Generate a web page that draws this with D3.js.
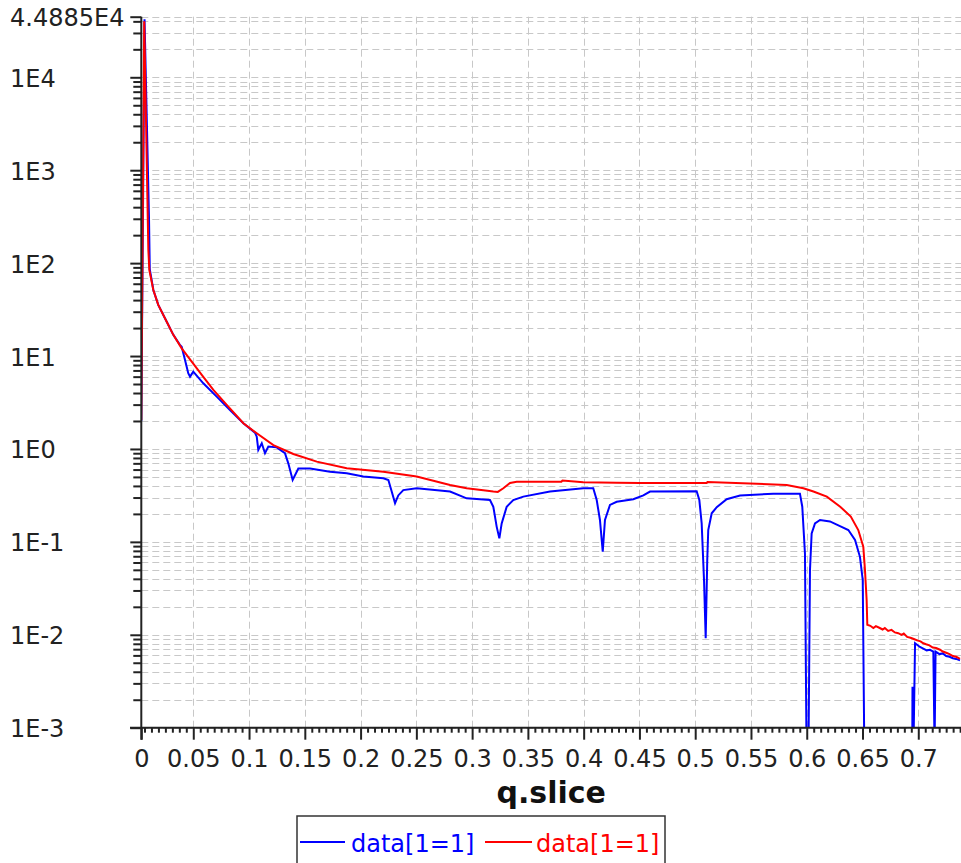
<!DOCTYPE html>
<html>
<head>
<meta charset="utf-8">
<script src="https://cdn.jsdelivr.net/npm/d3@7"></script>
<style>
  html, body { margin: 0; padding: 0; background: #fff; }
  svg { display: block; }
</style>
</head>
<body>
<svg id="chart" width="961" height="863"></svg>
<script>
// ---- data: q.slice vs intensity, two traces ----
const qBlue = [0.0034, 0.0063, 0.0103, 0.0110, 0.0142, 0.0186, 0.0262, 0.0321, 0.0380, 0.0396,
  0.0426, 0.0455, 0.0471, 0.0500, 0.0590, 0.0710, 0.0829, 0.0949, 0.1053, 0.1069,
  0.1083, 0.1114, 0.1143, 0.1173, 0.1248, 0.1322, 0.1352, 0.1391, 0.1442, 0.1547,
  0.1726, 0.1876, 0.2024, 0.2204, 0.2249, 0.2279, 0.2309, 0.2338, 0.2383, 0.2503,
  0.2802, 0.2951, 0.3160, 0.3190, 0.3220, 0.3244, 0.3265, 0.3310, 0.3369, 0.3459,
  0.3698, 0.3997, 0.4086, 0.4117, 0.4146, 0.4171, 0.4191, 0.4236, 0.4296, 0.4445,
  0.4535, 0.4595, 0.5013, 0.5037, 0.5058, 0.5079, 0.5094, 0.5108, 0.5117, 0.5148,
  0.5193, 0.5282, 0.5402, 0.5700, 0.5939, 0.5960, 0.5984, 0.5998, 0.6016, 0.6029,
  0.6044, 0.6074, 0.6119, 0.6208, 0.6298, 0.6373, 0.6433, 0.6477, 0.6502, 0.6516,
  0.6946, 0.6948, 0.6957, 0.6971, 0.7015, 0.7045, 0.7075, 0.7105, 0.7135, 0.7146,
  0.7155, 0.7190, 0.7220, 0.7250, 0.7280, 0.7310, 0.7340, 0.7374];
const vBlue = [2.0, 42000, 314, 86, 51.4, 35.5, 23.4, 16.9, 13.2, 12.6,
  9.08, 6.53, 6.0, 6.79, 5.09, 3.66, 2.63, 1.89, 1.497, 1.355,
  0.975, 1.15, 0.90, 1.06, 1.04, 0.90, 0.70, 0.464, 0.617, 0.617,
  0.570, 0.547, 0.504, 0.484, 0.464, 0.348, 0.261, 0.316, 0.361, 0.378,
  0.348, 0.294, 0.282, 0.239, 0.146, 0.109, 0.158, 0.239, 0.282, 0.307,
  0.348, 0.378, 0.378, 0.282, 0.172, 0.0785, 0.172, 0.25, 0.27, 0.288,
  0.316, 0.348, 0.351, 0.282, 0.158, 0.0389, 0.00918, 0.0638, 0.134, 0.203,
  0.236, 0.288, 0.316, 0.33, 0.33, 0.239, 0.075, 0, 0, 0.0499,
  0.123, 0.158, 0.172, 0.166, 0.148, 0.134, 0.105, 0.069, 0.039, 0,
  0, 0.00276, 0, 0.0081, 0.0074, 0.0071, 0.0068, 0.0069, 0.0066, 0,
  0.0066, 0.0062, 0.0063, 0.0059, 0.0058, 0.0056, 0.0055, 0.0053];

const qRed = [0.0034, 0.0060, 0.0097, 0.0106, 0.0142, 0.0186, 0.0262, 0.0321, 0.0396, 0.0486,
  0.0576, 0.0680, 0.0800, 0.0949, 0.1069, 0.1218, 0.1397, 0.1607, 0.1876, 0.2204,
  0.2503, 0.2802, 0.2951, 0.3100, 0.3190, 0.3230, 0.3280, 0.3340, 0.3400, 0.3700,
  0.3800, 0.3810, 0.3997, 0.4296, 0.4505, 0.5103, 0.5110, 0.5820, 0.5970, 0.6060,
  0.6180, 0.6300, 0.6395, 0.6462, 0.6507, 0.6522, 0.6537, 0.6543, 0.6570, 0.6597,
  0.6620, 0.6650, 0.6680, 0.6700, 0.6730, 0.6760, 0.6790, 0.6820, 0.6850, 0.6870,
  0.6900, 0.6930, 0.6960, 0.6990, 0.7020, 0.7045, 0.7070, 0.7100, 0.7130, 0.7160,
  0.7195, 0.7220, 0.7250, 0.7280, 0.7310, 0.7340, 0.7374];
const vRed = [2.05, 40000, 140, 84, 51.4, 35.5, 23.4, 16.9, 12.1, 8.71,
  6.26, 4.32, 2.98, 1.89, 1.476, 1.10, 0.883, 0.73, 0.62, 0.570,
  0.504, 0.410, 0.378, 0.36, 0.348, 0.345, 0.378, 0.430, 0.444, 0.444,
  0.444, 0.458, 0.437, 0.433, 0.43, 0.43, 0.44, 0.41, 0.378, 0.348,
  0.307, 0.239, 0.187, 0.134, 0.0887, 0.0499, 0.0237, 0.0128, 0.0125, 0.0118,
  0.0124, 0.0119, 0.0114, 0.0118, 0.0110, 0.0113, 0.0106, 0.0104, 0.0100, 0.0103,
  0.0095, 0.0093, 0.0090, 0.0087, 0.0085, 0.0081, 0.0079, 0.0077, 0.0073, 0.0072,
  0.0069, 0.0066, 0.0064, 0.0062, 0.0059, 0.0058, 0.0055];

const seriesNames = ["data[1=1]", "data[1=1]"];
const seriesColors = ["#0000ff", "#ff0000"];

const xTickValues = [0, 0.05, 0.1, 0.15, 0.2, 0.25, 0.3, 0.35, 0.4, 0.45, 0.5, 0.55, 0.6, 0.65, 0.7];
const xTickLabels = ["0", "0.05", "0.1", "0.15", "0.2", "0.25", "0.3", "0.35", "0.4", "0.45", "0.5", "0.55", "0.6", "0.65", "0.7"];
const yTickValues = [1e-3, 1e-2, 1e-1, 1e0, 1e1, 1e2, 1e3, 1e4, 44885];
const yTickLabels = ["1E-3", "1E-2", "1E-1", "1E0", "1E1", "1E2", "1E3", "1E4", "4.4885E4"];
const xTitle = "q.slice";

// ---- layout ----
const xMin = 0.0034, xMax = 0.7383;
const yMin = 1e-3, yMax = 44885;
const plotL = 141.3, plotR = 961, plotT = 16.7, plotB = 727.7;
const FONT = "'DejaVu Sans', Verdana, sans-serif";

const svg = d3.select("#chart");
const x = d3.scaleLinear().domain([xMin, xMax]).range([plotL, plotR]).clamp(true);
const y = d3.scaleLog().domain([yMin, yMax]).range([plotB, plotT]);

// minor ticks: eight subdivisions per major step on x, 2..9 per decade on y
const xMinor = d3.range(0, xMax, 0.00625).filter(v => v >= xMin && !xTickValues.some(t => Math.abs(t - v) < 1e-9));
const yMinor = [];
for (let e = -3; e <= 4; e++) {
  for (let k = 2; k <= 9; k++) {
    const v = k * Math.pow(10, e);
    if (v < yMax) yMinor.push(v);
  }
}

// ---- grid ----
const grid = svg.append("g").attr("stroke", "#c8c8c8").attr("stroke-width", 1)
  .attr("stroke-dasharray", "7,4").attr("fill", "none");
yTickValues.concat(yMinor).forEach(v => {
  const py = Math.round(y(v)) + 0.5;
  grid.append("line").attr("x1", plotL).attr("x2", plotR).attr("y1", py).attr("y2", py);
});
xTickValues.filter(v => v > xMin).forEach(v => {
  const px = Math.round(x(v)) + 0.5;
  grid.append("line").attr("x1", px).attr("x2", px).attr("y1", plotT).attr("y2", plotB);
});

// ---- traces ----
svg.append("defs").append("clipPath").attr("id", "plotClip")
  .append("rect").attr("x", plotL).attr("y", 0).attr("width", plotR - plotL).attr("height", plotB);

const line = d3.line()
  .x(d => x(d[0]))
  .y(d => d[1] > 0 ? y(d[1]) : plotB + 20);

const series = [
  d3.zip(qBlue, vBlue),
  d3.zip(qRed, vRed)
];
const traces = svg.append("g").attr("clip-path", "url(#plotClip)");
series.forEach((pts, i) => {
  traces.append("path")
    .datum(pts)
    .attr("d", line)
    .attr("fill", "none")
    .attr("stroke", seriesColors[i])
    .attr("stroke-width", 2);
});

// ---- axes ----
const axisColor = "#222";
const xAxis = svg.append("g").attr("transform", `translate(0,${plotB})`)
  .call(d3.axisBottom(x).tickValues(xTickValues).tickSize(12).tickSizeOuter(0)
    .tickFormat((d, i) => xTickLabels[i]));
svg.append("g").attr("transform", `translate(0,${plotB})`)
  .call(d3.axisBottom(x).tickValues(xMinor).tickSize(5).tickSizeOuter(0).tickFormat(""))
  .call(g => g.select(".domain").remove());

const yAxis = svg.append("g").attr("transform", `translate(${plotL},0)`)
  .call(d3.axisLeft(y).tickValues(yTickValues).tickSize(11).tickSizeOuter(0)
    .tickFormat((d, i) => yTickLabels[i]));
svg.append("g").attr("transform", `translate(${plotL},0)`)
  .call(d3.axisLeft(y).tickValues(yMinor).tickSize(8).tickSizeOuter(0).tickFormat(""))
  .call(g => g.select(".domain").remove());

svg.selectAll("g.tick line, path.domain").attr("stroke", axisColor).attr("stroke-width", 2);
xAxis.select(".domain").attr("d", `M130,0H${plotR}`);
yAxis.select(".domain").attr("d", `M0,${plotT}V${plotB + 12}`);

xAxis.selectAll("text")
  .attr("font-family", FONT).attr("font-size", 24).attr("fill", axisColor)
  .attr("y", 39).attr("dy", 0);
yAxis.selectAll("text")
  .attr("font-family", FONT).attr("font-size", 24).attr("fill", axisColor)
  .attr("text-anchor", "start").attr("x", 10 - plotL).attr("dy", 9);

// axis title
svg.append("text")
  .attr("x", (plotL + plotR) / 2).attr("y", 803)
  .attr("text-anchor", "middle")
  .attr("font-family", FONT).attr("font-size", 30).attr("font-weight", "bold")
  .attr("fill", "#111")
  .text(xTitle);

// ---- legend ----
const legend = svg.append("g");
legend.append("rect")
  .attr("x", 297).attr("y", 816).attr("width", 368).attr("height", 60)
  .attr("fill", "#fff").attr("stroke", "#333").attr("stroke-width", 1.5);
const legendItems = [
  { x0: 300, x1: 345, tx: 351 },
  { x0: 485, x1: 532, tx: 536 }
];
legendItems.forEach((it, i) => {
  legend.append("line")
    .attr("x1", it.x0).attr("x2", it.x1).attr("y1", 842).attr("y2", 842)
    .attr("stroke", seriesColors[i]).attr("stroke-width", 2);
  legend.append("text")
    .attr("x", it.tx).attr("y", 852)
    .attr("font-family", FONT).attr("font-size", 24)
    .attr("fill", seriesColors[i])
    .text(seriesNames[i]);
});
</script>
</body>
</html>
